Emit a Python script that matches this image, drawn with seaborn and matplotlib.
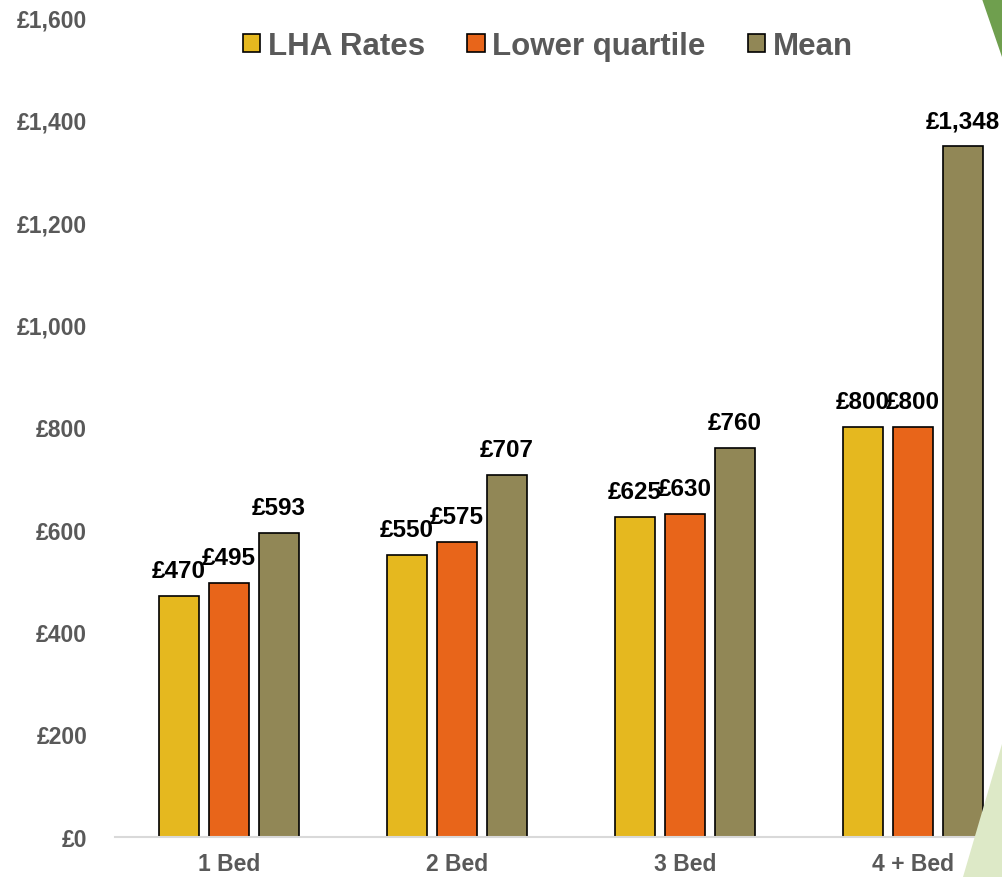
import matplotlib
matplotlib.use("Agg")
import matplotlib.pyplot as plt
from matplotlib.patches import Polygon
import seaborn as sns
import pandas as pd

categories = ["1 Bed", "2 Bed", "3 Bed", "4 + Bed"]
series = ["LHA Rates", "Lower quartile", "Mean"]
lha_rates = [470, 550, 625, 800]
lower_quartile = [495, 575, 630, 800]
mean_rent = [593, 707, 760, 1348]
y_ticks = [0, 200, 400, 600, 800, 1000, 1200, 1400, 1600]
colors = ["#E5B81F", "#E8651A", "#918756"]

rows = []
for name, vals in zip(series, [lha_rates, lower_quartile, mean_rent]):
    for c, v in zip(categories, vals):
        rows.append({"Category": c, "Series": name, "Value": v})
df = pd.DataFrame(rows)

sns.set_theme(style="white")
plt.rcParams["font.family"] = ["Liberation Sans", "DejaVu Sans"]

fig = plt.figure(figsize=(10.02, 8.78), dpi=100)
ax = fig.add_axes([115 / 1002, 1 - 838 / 878, 1 - 115 / 1002, (838 - 18) / 878])

sns.barplot(data=df, x="Category", y="Value", hue="Series", order=categories,
            hue_order=series, palette=colors, saturation=1, width=0.657, gap=0.2,
            edgecolor="black", linewidth=1.2, ax=ax, legend=True)

for cont in ax.containers:
    ax.bar_label(cont, labels=[f"£{v:,.0f}" for v in cont.datavalues],
                 padding=10, fontsize=17.5, fontweight="bold", color="black")

ax.set_xlim(-0.5, 3.39)
ax.set_ylim(0, 1600)
ax.set_yticks(y_ticks)
ax.set_yticklabels([f"£{v:,}" for v in y_ticks])
ax.set_xlabel("")
ax.set_ylabel("")
ax.tick_params(axis="y", length=0, pad=20, labelsize=16.5, labelcolor="#595959")
ax.tick_params(axis="x", length=0, pad=11, labelsize=16.5, labelcolor="#595959")
for lab in ax.get_xticklabels() + ax.get_yticklabels():
    lab.set_fontweight("bold")
for s in ["top", "right", "left"]:
    ax.spines[s].set_visible(False)
ax.spines["bottom"].set_color("#d9d9d9")
ax.spines["bottom"].set_linewidth(1.5)

handles, labels = ax.get_legend_handles_labels()
ax.legend_.remove()
leg = fig.legend(handles, labels, loc="center", bbox_to_anchor=(548 / 1002, 1 - 47 / 878),
                 ncol=3, frameon=False, prop={"weight": "bold", "size": 22.5},
                 labelcolor="#595959", handlelength=0.55, handleheight=0.55,
                 handletextpad=0.25, columnspacing=1.35)

def fig_poly(pts, color):
    p = Polygon([(x / 1002, 1 - y / 878) for x, y in pts], closed=True,
                transform=fig.transFigure, facecolor=color, edgecolor="none", zorder=0)
    fig.patches.append(p)

fig_poly([(982, 0), (1002, 0), (1002, 58)], "#6f9f4e")
fig_poly([(963, 878), (1002, 745), (1002, 878)], "#dde9c7")

fig.savefig("out.png", dpi=100)
